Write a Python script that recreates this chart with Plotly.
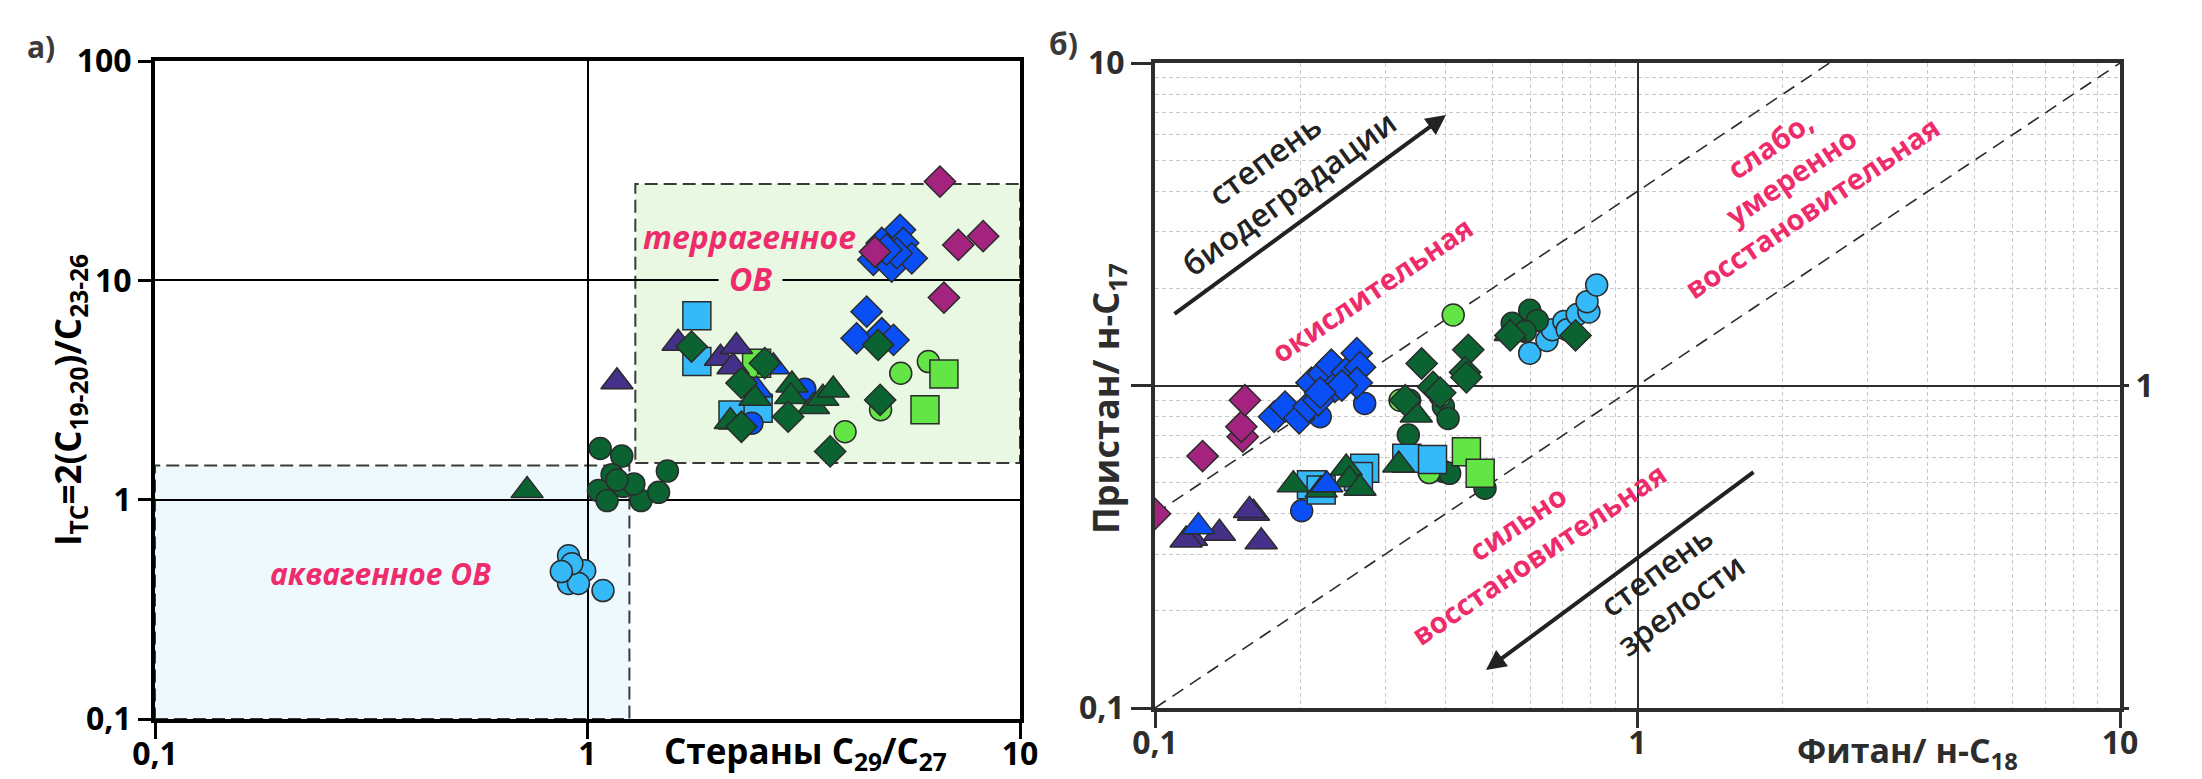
import plotly.graph_objects as go

W, H = 2202, 779          # target picture size
FONT = "Open Sans, Liberation Sans, DejaVu Sans, sans-serif"
PINK = "#EE2C6C"

# ---------------- colours ----------------
C_MAG = "#A3237F"
C_BLUE = "#0A4FF5"
C_LTBLUE = "#35B9F9"
C_DKGREEN = "#0B6332"
C_LTGREEN = "#63E545"
C_INDIGO = "#45308A"

# ---------------- panel a) data : steranes C29/C27 vs I_TC ----------------
a_mag_diamond_x = [6.53, 7.2, 8.22, 6.67, 4.62]
a_mag_diamond_y = [28.2, 14.5, 15.9, 8.34, 13.5]
a_blue_diamond_x = [5.28, 4.79, 4.58, 5.05, 5.37, 5.62, 5.19, 4.91, 4.42, 4.19, 4.79, 5.1]
a_blue_diamond_y = [17.0, 14.8, 12.4, 11.55, 14.8, 12.6, 13.3, 13.8, 7.2, 5.44, 5.74, 5.35]
a_dkgreen_diamond_x = [4.7, 4.75, 3.64, 1.74, 2.57, 2.27, 2.27, 2.91]
a_dkgreen_diamond_y = [5.08, 2.85, 1.66, 4.99, 4.19, 3.4, 2.15, 2.39]
a_ltgreen_circle_x = [3.94, 5.3, 6.14, 4.76]
a_ltgreen_circle_y = [2.04, 3.77, 4.26, 2.57]
a_ltgreen_square_x = [6.67, 6.03, 2.46]
a_ltgreen_square_y = [3.74, 2.57, 4.19]
a_ltblue_square_x = [1.79, 1.79, 2.17, 2.48]
a_ltblue_square_y = [6.9, 4.26, 2.43, 2.61]
a_blue_circle_x = [3.18, 2.4]
a_blue_circle_y = [3.19, 2.23]
a_blue_triangle_x = [2.69, 2.46]
a_blue_triangle_y = [4.04, 3.16]
a_indigo_triangle_x = [1.17, 1.62, 2.03, 2.21, 2.17]
a_indigo_triangle_y = [3.45, 5.17, 4.41, 4.99, 4.04]
a_dkgreen_triangle_x = [0.725, 2.97, 2.95, 2.44, 3.33, 3.5, 3.7, 2.14]
a_dkgreen_triangle_y = [1.1, 3.33, 2.95, 2.9, 2.66, 2.9, 3.16, 2.27]
a_dkgreen_circle_x = [1.07, 1.2, 1.14, 1.06, 1.11, 1.21, 1.33, 1.46, 1.53, 1.28, 1.17]
a_dkgreen_circle_y = [1.71, 1.58, 1.30, 1.1, 0.99, 1.15, 0.99, 1.08, 1.35, 1.18, 1.23]
a_ltblue_circle_x = [0.904, 0.936, 0.985, 0.904, 0.953, 1.086, 0.92, 0.87]
a_ltblue_circle_y = [0.555, 0.462, 0.474, 0.415, 0.415, 0.385, 0.51, 0.47]

# zones of panel a)
aqua_zone_x = [0.1, 1.25]
aqua_zone_y = [0.1, 1.43]
terra_zone_x = [1.29, 10]
terra_zone_y = [1.47, 27.5]

# ---------------- panel б) data : Ph/n-C18 vs Pr/n-C17 ----------------
b_mag_diamond_x = [0.1, 0.1255, 0.152, 0.151, 0.1536]
b_mag_diamond_y = [0.40, 0.604, 0.694, 0.745, 0.90]
b_blue_diamond_x = [0.1765, 0.186, 0.199, 0.208, 0.211, 0.223, 0.232, 0.236, 0.2497, 0.262, 0.266, 0.262, 0.218, 0.244, 0.22]
b_blue_diamond_y = [0.80, 0.86, 0.791, 0.86, 1.02, 1.09, 1.16, 0.99, 1.10, 1.26, 1.14, 1.02, 0.90, 1.0, 0.95]
b_blue_circle_x = [0.272, 0.22, 0.2014]
b_blue_circle_y = [0.88, 0.80, 0.409]
b_dkgreen_diamond_x = [0.357, 0.446, 0.439, 0.442, 0.377, 0.39, 0.33, 0.545, 0.744]
b_dkgreen_diamond_y = [1.17, 1.29, 1.10, 1.06, 0.99, 0.95, 0.90, 1.43, 1.43]
b_dkgreen_circle_x = [0.337, 0.335, 0.396, 0.405, 0.439, 0.396, 0.408, 0.483, 0.55, 0.598, 0.62, 0.585]
b_dkgreen_circle_y = [0.90, 0.702, 0.86, 0.79, 0.623, 0.541, 0.534, 0.48, 1.56, 1.71, 1.59, 1.47]
b_ltgreen_circle_x = [0.415, 0.322, 0.37, 0.39]
b_ltgreen_circle_y = [1.655, 0.90, 0.537, 0.93]
b_ltgreen_square_x = [0.442, 0.472]
b_ltgreen_square_y = [0.623, 0.534]
b_ltblue_square_x = [0.3325, 0.376, 0.272, 0.264, 0.211, 0.221]
b_ltblue_square_y = [0.595, 0.59, 0.554, 0.522, 0.492, 0.474]
b_ltblue_circle_x = [0.598, 0.649, 0.666, 0.704, 0.715, 0.75, 0.793, 0.786, 0.823]
b_ltblue_circle_y = [1.26, 1.38, 1.49, 1.58, 1.49, 1.66, 1.69, 1.82, 2.05]
b_blue_triangle_x = [0.123, 0.227]
b_blue_triangle_y = [0.365, 0.492]
b_indigo_triangle_x = [0.119, 0.136, 0.16, 0.157, 0.166, 0.116]
b_indigo_triangle_y = [0.336, 0.348, 0.402, 0.41, 0.328, 0.332]
b_dkgreen_triangle_x = [0.1935, 0.221, 0.249, 0.253, 0.266, 0.32, 0.348, 0.545]
b_dkgreen_triangle_y = [0.492, 0.474, 0.555, 0.51, 0.48, 0.567, 0.81, 1.45]

# Pr/Ph boundary ratios (dashed diagonals)
boundary_ratios = [4, 1]

a_ticks = [0.1, 1, 10, 100]
a_ticktext = ["0,1", "1", "10", "100"]
b_ticks = [0.1, 1, 10]
b_ticktext = ["0,1", "1", "10"]

SIZE = {"circle": 22, "square": 28, "triangle-up": 28, "diamond": 24}

a_series = [
    (a_ltblue_circle_x, a_ltblue_circle_y, "circle", C_LTBLUE),
    (a_dkgreen_circle_x, a_dkgreen_circle_y, "circle", C_DKGREEN),
    (a_ltgreen_circle_x, a_ltgreen_circle_y, "circle", C_LTGREEN),
    (a_ltblue_square_x, a_ltblue_square_y, "square", C_LTBLUE),
    (a_ltgreen_square_x, a_ltgreen_square_y, "square", C_LTGREEN),
    (a_indigo_triangle_x, a_indigo_triangle_y, "triangle-up", C_INDIGO),
    (a_blue_circle_x, a_blue_circle_y, "circle", C_BLUE),
    (a_blue_triangle_x, a_blue_triangle_y, "triangle-up", C_BLUE),
    (a_dkgreen_triangle_x, a_dkgreen_triangle_y, "triangle-up", C_DKGREEN),
    (a_blue_diamond_x, a_blue_diamond_y, "diamond", C_BLUE),
    (a_dkgreen_diamond_x, a_dkgreen_diamond_y, "diamond", C_DKGREEN),
    (a_mag_diamond_x, a_mag_diamond_y, "diamond", C_MAG),
]
b_series = [
    (b_ltblue_circle_x, b_ltblue_circle_y, "circle", C_LTBLUE),
    (b_dkgreen_circle_x, b_dkgreen_circle_y, "circle", C_DKGREEN),
    (b_ltgreen_circle_x, b_ltgreen_circle_y, "circle", C_LTGREEN),
    (b_blue_circle_x, b_blue_circle_y, "circle", C_BLUE),
    (b_ltblue_square_x, b_ltblue_square_y, "square", C_LTBLUE),
    (b_ltgreen_square_x, b_ltgreen_square_y, "square", C_LTGREEN),
    (b_indigo_triangle_x, b_indigo_triangle_y, "triangle-up", C_INDIGO),
    (b_dkgreen_triangle_x, b_dkgreen_triangle_y, "triangle-up", C_DKGREEN),
    (b_blue_triangle_x, b_blue_triangle_y, "triangle-up", C_BLUE),
    (b_dkgreen_diamond_x, b_dkgreen_diamond_y, "diamond", C_DKGREEN),
    (b_blue_diamond_x, b_blue_diamond_y, "diamond", C_BLUE),
    (b_mag_diamond_x, b_mag_diamond_y, "diamond", C_MAG),
]


def px(x):
    return x / W


def py(y):
    return 1 - y / H


fig = go.Figure()

# dashed diagonals of panel б)
for r in boundary_ratios:
    x0 = max(0.1, 0.1 / r)
    x1 = min(10, 10 / r)
    fig.add_trace(go.Scatter(x=[x0, x1], y=[r * x0, r * x1], mode="lines",
                             line=dict(color="#2a2a2a", width=1.6, dash="13px,8px"),
                             xaxis="x2", yaxis="y2", hoverinfo="skip", showlegend=False))

for xs, ys, sym, col in a_series:
    fig.add_trace(go.Scatter(x=xs, y=ys, mode="markers", xaxis="x", yaxis="y", showlegend=False,
                             marker=dict(symbol=sym, size=SIZE[sym], color=col,
                                         line=dict(color="#2b2b2b", width=1.5))))
for xs, ys, sym, col in b_series:
    fig.add_trace(go.Scatter(x=xs, y=ys, mode="markers", xaxis="x2", yaxis="y2", showlegend=False,
                             marker=dict(symbol=sym, size=SIZE[sym], color=col,
                                         line=dict(color="#2b2b2b", width=1.5))))
# carrier for the right-hand axis of panel б)
fig.add_trace(go.Scatter(x=[], y=[], xaxis="x2", yaxis="y3", showlegend=False))

# zone rectangles of panel a)
fig.add_shape(type="rect", xref="x", yref="y", layer="below",
              x0=aqua_zone_x[0], x1=aqua_zone_x[1], y0=aqua_zone_y[0], y1=aqua_zone_y[1],
              fillcolor="#EEF9FE", line=dict(color="#3a3a3a", width=2, dash="13px,6px"))
fig.add_shape(type="rect", xref="x", yref="y", layer="below",
              x0=terra_zone_x[0], x1=terra_zone_x[1], y0=terra_zone_y[0], y1=terra_zone_y[1],
              fillcolor="#E8F8E3", line=dict(color="#3a3a3a", width=2, dash="13px,6px"))

ann = []


def text(x, y, s, size, color="#000", angle=0, bg=None, pad=1, align="center", weight="normal"):
    d = dict(x=px(x), y=py(y), xref="paper", yref="paper", text=s, showarrow=False,
             textangle=angle, align=align, xanchor="center", yanchor="middle",
             font=dict(family=FONT, size=size, color=color, weight=weight), borderpad=pad)
    if bg:
        d["bgcolor"] = bg
    ann.append(d)


# panel labels
text(41, 47, "<b>а)</b>", 30, "#3a3a3a")
text(1063, 44, "<b>б)</b>", 30, "#3a3a3a")
# axis titles
text(69, 400, "<b>I<sub>TC</sub>=2(C<sub>19-20</sub>)/C<sub>23-26</sub></b>", 35, "#000", angle=-90)
text(805, 752, "<b>Стераны C<sub>29</sub>/C<sub>27</sub></b>", 35, "#000")
text(1907, 752, "<b>Фитан/ н-C<sub>18</sub></b>", 34, "#2d2d2d")
text(1107, 399, "<b>Пристан/ н-C<sub>17</sub></b>", 36, "#2d2d2d", angle=-90)
# panel a) zone names
text(750, 278, "<b><i>ОВ</i></b>", 32, PINK, bg="#E8F8E3", pad=10)
text(749, 236, "<b><i>террагенное</i></b>", 32, PINK)
text(380, 573, "<b><i>аквагенное ОВ</i></b>", 30, PINK)
# panel б) zone names
text(1371, 289, "<b>окислительная</b>", 29, PINK, angle=-34)
text(1790, 176, "<b>слабо,<br>умеренно<br>восстановительная</b>", 29, PINK, angle=-34)
text(1527, 538, "<b>сильно<br>восстановительная</b>", 29, PINK, angle=-34)
text(1276, 176, "степень<br>биодеградации", 32, "#222", angle=-36, weight=600)
text(1668, 587, "степень<br>зрелости", 32, "#222", angle=-36, weight=600)

# arrows
ann.append(dict(x=px(1446), y=py(115), xref="paper", yref="paper", ax=1173 - 1446, ay=315 - 115,
                axref="pixel", ayref="pixel", showarrow=True, arrowhead=2, arrowsize=1,
                arrowwidth=4, arrowcolor="#222", text=""))
ann.append(dict(x=px(1486), y=py(670), xref="paper", yref="paper", ax=1755 - 1486, ay=471 - 670,
                axref="pixel", ayref="pixel", showarrow=True, arrowhead=2, arrowsize=1,
                arrowwidth=4, arrowcolor="#222", text=""))

tickfont_a = dict(family=FONT, size=32, color="#000", weight="bold")
tickfont_b = dict(family=FONT, size=32, color="#2d2d2d", weight="bold")

minor_vals = [m * 10 ** e for e in (-1, 0) for m in range(2, 10)]

fig.update_layout(
    width=W, height=H, margin=dict(l=0, r=0, t=0, b=0),
    paper_bgcolor="white", plot_bgcolor="white", showlegend=False, hovermode=False,
    annotations=ann,
    xaxis=dict(domain=[px(155), px(1020)], type="log", range=[-1, 1], anchor="y",
               tickvals=a_ticks[:3], ticktext=a_ticktext[:3], tickfont=tickfont_a,
               showgrid=True, gridcolor="#000", gridwidth=1.5, zeroline=False,
               showline=True, mirror=True, linecolor="#000", linewidth=4,
               ticks="outside", ticklen=16, tickwidth=3, tickcolor="#000",
               ticklabelstandoff=-12, automargin=False),
    yaxis=dict(domain=[py(719), py(61)], type="log", range=[-1, 2], anchor="x",
               tickvals=a_ticks, ticktext=a_ticktext, tickfont=tickfont_a,
               showgrid=True, gridcolor="#000", gridwidth=1.5, zeroline=False,
               showline=True, mirror=True, linecolor="#000", linewidth=4,
               ticks="outside", ticklen=13, tickwidth=3, tickcolor="#000", automargin=False),
    xaxis2=dict(domain=[px(1155), px(2120)], type="log", range=[-1, 1], anchor="y2",
                tickvals=b_ticks, ticktext=b_ticktext, tickfont=tickfont_b,
                showgrid=True, gridcolor="#2d2d2d", gridwidth=2, zeroline=False,
                showline=True, mirror=True, linecolor="#2d2d2d", linewidth=4,
                ticks="outside", ticklen=16, tickwidth=3, tickcolor="#2d2d2d",
                ticklabelstandoff=-12, automargin=False,
                minor=dict(tickvals=minor_vals, showgrid=True, gridcolor="#c9c9c9",
                           griddash="4px,3px", gridwidth=1, ticks="")),
    yaxis2=dict(domain=[py(708), py(63)], type="log", range=[-1, 1], anchor="x2",
                tickvals=b_ticks, ticktext=["0,1", "", "10"], tickfont=tickfont_b,
                showgrid=True, gridcolor="#2d2d2d", gridwidth=2, zeroline=False,
                showline=True, mirror=True, linecolor="#2d2d2d", linewidth=4,
                ticks="outside", ticklen=20, tickwidth=3, tickcolor="#2d2d2d", automargin=False,
                minor=dict(tickvals=minor_vals, showgrid=True, gridcolor="#c9c9c9",
                           griddash="4px,3px", gridwidth=1, ticks="")),
    yaxis3=dict(overlaying="y2", side="right", anchor="x2", type="log", range=[-1, 1],
                tickvals=[0.1, 1], ticktext=["", "1"], tickfont=tickfont_b,
                showgrid=False, zeroline=False, showline=False,
                ticks="outside", ticklen=8, tickwidth=3, tickcolor="#2d2d2d", automargin=False),
)

# remove the default page margin so the figure fills the window exactly
fig.write_html("out.html", config={"displayModeBar": False},
               post_script="document.body.style.margin='0px';")
